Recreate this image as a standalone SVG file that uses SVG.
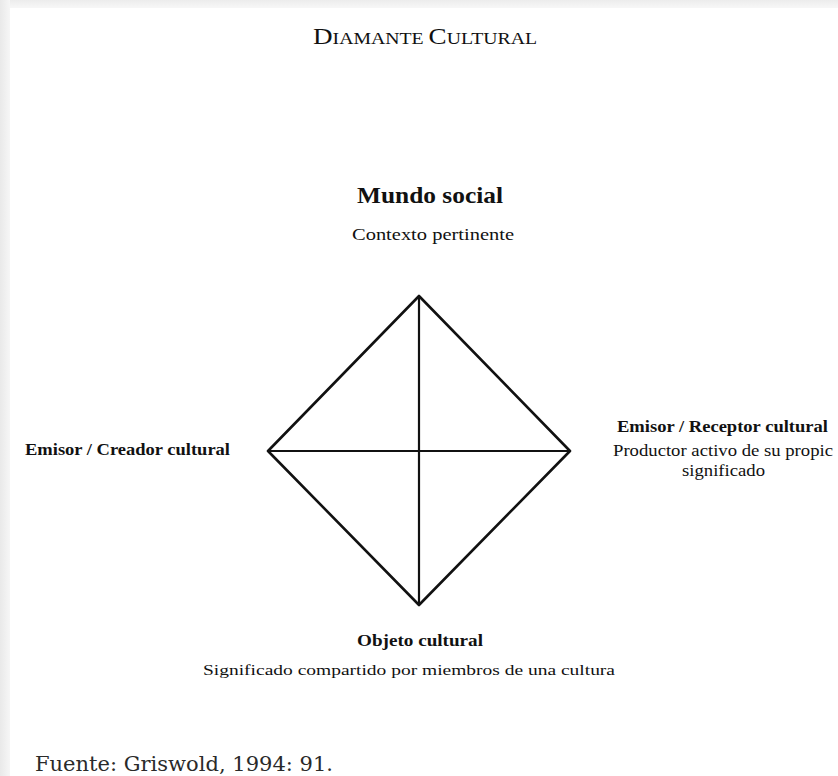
<svg xmlns="http://www.w3.org/2000/svg" width="838" height="776" viewBox="0 0 838 776">
<defs>
<linearGradient id="lg" x1="0" y1="0" x2="1" y2="0">
<stop offset="0" stop-color="#e9e9e9"/>
<stop offset="1" stop-color="#f6f6f6"/>
</linearGradient>
<linearGradient id="tg" x1="0" y1="0" x2="0" y2="1">
<stop offset="0" stop-color="#ececec"/>
<stop offset="1" stop-color="#f7f7f7"/>
</linearGradient>
<style>
.t{font-family:"Liberation Serif","Times New Roman",serif;fill:#111}
.b{font-weight:bold}
.e{stroke:#111;stroke-width:2.6;fill:none;stroke-linecap:round;stroke-linejoin:round}
.x{stroke:#111;stroke-width:2.2;fill:none}
</style>
</defs>
<rect x="0" y="0" width="838" height="776" fill="#fff"/>
<rect x="0" y="0" width="838" height="8" fill="url(#tg)"/>
<rect x="0" y="0" width="10" height="776" fill="url(#lg)"/>

<text class="t" x="313" y="44" textLength="224" lengthAdjust="spacingAndGlyphs" fill="#1a1a1a"><tspan font-size="24">D</tspan><tspan font-size="17.5">IAMANTE </tspan><tspan font-size="24">C</tspan><tspan font-size="17.5">ULTURAL</tspan></text>

<g id="connectors">
<polygon class="e" points="419,296 570,451 419,605 268,451"/>
<line class="x" x1="419" y1="296" x2="419" y2="605"/>
<line class="x" x1="268" y1="451" x2="570" y2="451"/>
</g>

<g id="node-mundo">
<text class="t b" x="357" y="203" font-size="23" textLength="146" lengthAdjust="spacingAndGlyphs">Mundo social</text>
<text class="t" x="352" y="240" font-size="17" textLength="162" lengthAdjust="spacingAndGlyphs">Contexto pertinente</text>
</g>

<g id="node-creador">
<text class="t b" x="25" y="455" font-size="17" textLength="205" lengthAdjust="spacingAndGlyphs">Emisor / Creador cultural</text>
</g>

<g id="node-receptor">
<text class="t b" x="617" y="432" font-size="17" textLength="211" lengthAdjust="spacingAndGlyphs">Emisor / Receptor cultural</text>
<text class="t" x="613" y="456" font-size="17" textLength="220" lengthAdjust="spacingAndGlyphs">Productor activo de su propic</text>
<text class="t" x="682" y="476" font-size="17" textLength="83" lengthAdjust="spacingAndGlyphs">significado</text>
</g>

<g id="node-objeto">
<text class="t b" x="357" y="646" font-size="17" textLength="126" lengthAdjust="spacingAndGlyphs">Objeto cultural</text>
<text class="t" x="203" y="675" font-size="15" textLength="412" lengthAdjust="spacingAndGlyphs">Significado compartido por miembros de una cultura</text>
</g>

<text x="35" y="771" font-family="'DejaVu Serif',serif" font-size="20" fill="#2a2a2a" textLength="298" lengthAdjust="spacingAndGlyphs">Fuente: Griswold, 1994: 91.</text>
</svg>
